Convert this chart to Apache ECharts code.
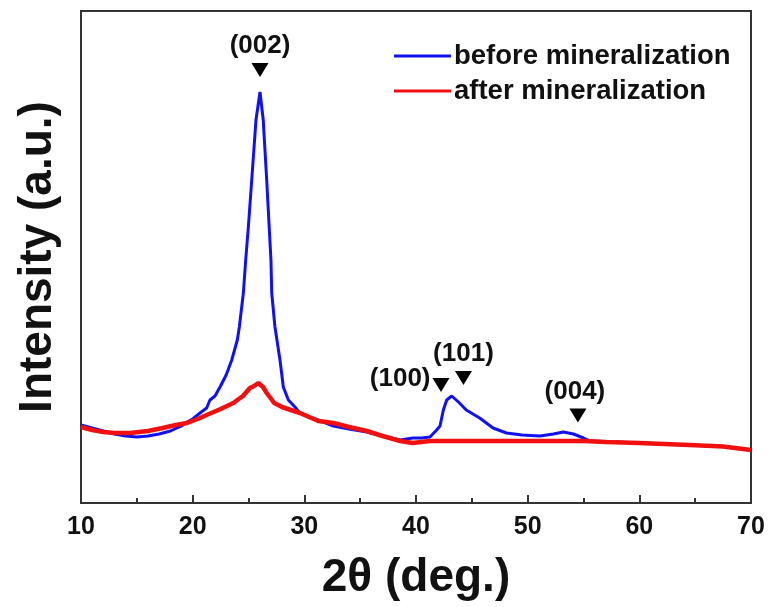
<!DOCTYPE html>
<html>
<head>
<meta charset="utf-8">
<script src="https://cdn.jsdelivr.net/npm/echarts@6/dist/echarts.min.js"></script>
<style>
html,body{margin:0;padding:0;background:#fff;}
#chart{width:768px;height:607px;}
</style>
</head>
<body>
<div id="chart"></div>
<script>
// 2θ (deg.) positions and intensities (a.u.)
var beforeAngle = [10,11,12,13,14,15,16,17,18,19,19.5,20,20.66,21.25,21.55,22,22.45,23,23.5,24,24.18,24.54,24.75,25,25.29,25.67,26.03,26.32,26.63,27.01,27.08,27.37,27.82,28.12,28.57,29.16,29.6,30.5,31.5,32.6,34,35.6,37,38.6,39.7,40.5,41.25,41.85,42.15,42.45,42.75,43.2,43.8,44.5,45.7,46.9,48.1,49.5,51.1,52.3,53.2,54.1,55,55.6,58,60,62,64.5,67.5,70];
var beforeIntensity = [78,75,72,69,67,66,67,69,72,77,81,84,90,95,103,107,116,128,143,163,176,210,243,278,323,383,411,383,323,243,210,176,143,116,103,96,90,86,82,77,74,71,67,63,65,65,66,73,77,93,103,107,101,93,85,75,70,68,67,69,71,69,65,62,61,60,59,58,56.5,53];

var afterAngle = [10,11,12,13,14.4,16,17.3,18.5,19.5,20.66,21.25,22.5,23.64,24.5,25.13,25.5,25.88,26.3,26.63,27.3,28,29.6,31.25,32.6,34,35.6,37,38.6,39.7,41.25,42.5,45,48,50,52,55,57,60,64.5,67.5,70];
var afterIntensity = [76,73,71,70,70,72,75,78,80,85,88,94,100,107,115,117,120,116,110,100,96,90,82,80,76,72,67,62,60,62,62,62,62,62,62,62,61,60,58,56.5,53];

var seriesNames = ['before mineralization','after mineralization'];

// peak annotations
var peakNames = ['(002)','(100)','(101)','(004)'];
var peakAngle = [26.03,42.24,44.25,54.5];
var peakMarkIntensity = [433,118,125,87.5];

var xTicks = [10,20,30,40,50,60,70];

function pairs(xs, ys){ return xs.map(function(x,i){return [x, ys[i]];}); }

var peakData = peakNames.map(function(n,i){
  var item = {name:n, value:[peakAngle[i], peakMarkIntensity[i]]};
  if (n === '(100)') {
    item.label = {position:'left', distance:2, offset:[0,-6]};
  } else if (n === '(004)') {
    item.label = {position:'top', distance:4, offset:[-3,0]};
  }
  return item;
});

var chart = echarts.init(document.getElementById('chart'), null, {renderer:'canvas'});
var font = '"Liberation Sans", Arial, Helvetica, sans-serif';
chart.setOption({
  animation:false,
  backgroundColor:'#ffffff',
  grid:{left:81,right:17,top:11,bottom:104,show:true,borderColor:'#333',borderWidth:2,backgroundColor:'transparent'},
  legend:{
    data:seriesNames,
    orient:'vertical',
    left:389, top:36,
    icon:'rect', itemWidth:57, itemHeight:3, itemGap:5,
    textStyle:{fontFamily:font,fontWeight:'bold',fontSize:27.5,color:'#111',lineHeight:30,padding:[0,0,0,-2]}
  },
  xAxis:{
    type:'value', min:xTicks[0], max:xTicks[xTicks.length-1], interval:10,
    name:'2θ (deg.)', nameLocation:'middle', nameGap:52,
    nameTextStyle:{fontFamily:font,fontWeight:'bold',fontSize:46,color:'#111'},
    axisLine:{show:true,lineStyle:{color:'#333',width:2}},
    axisTick:{show:true,inside:true,length:8,lineStyle:{color:'#333',width:2}},
    minorTick:{show:true,splitNumber:2,length:5,lineStyle:{color:'#333',width:2}},
    axisLabel:{fontFamily:font,fontWeight:'bold',fontSize:25,color:'#111',margin:12},
    splitLine:{show:false}
  },
  yAxis:{
    type:'value', min:0, max:492,
    name:'Intensity (a.u.)', nameLocation:'middle', nameGap:20,
    nameTextStyle:{fontFamily:font,fontWeight:'bold',fontSize:46,color:'#111'},
    axisLine:{show:true,lineStyle:{color:'#333',width:2}},
    axisTick:{show:false}, axisLabel:{show:false}, splitLine:{show:false}
  },
  series:[
    {name:seriesNames[0], type:'line', data:pairs(beforeAngle,beforeIntensity), showSymbol:false, symbol:'none',
     lineStyle:{color:'#1010f0',width:3}, itemStyle:{color:'#1010f0'}, z:2},
    {name:seriesNames[1], type:'line', data:pairs(afterAngle,afterIntensity), showSymbol:false, symbol:'none',
     lineStyle:{color:'#f01010',width:4.5}, itemStyle:{color:'#f01010'}, z:3},
    {name:'peaks', type:'scatter', data:peakData, symbol:'triangle', symbolRotate:180, symbolSize:[17,14],
     itemStyle:{color:'#000',opacity:1}, z:5,
     label:{show:true, formatter:'{b}', position:'top', distance:4, opacity:1,
            fontFamily:font, fontWeight:'bold', fontSize:26, color:'#111'}}
  ]
});
</script>
</body>
</html>
